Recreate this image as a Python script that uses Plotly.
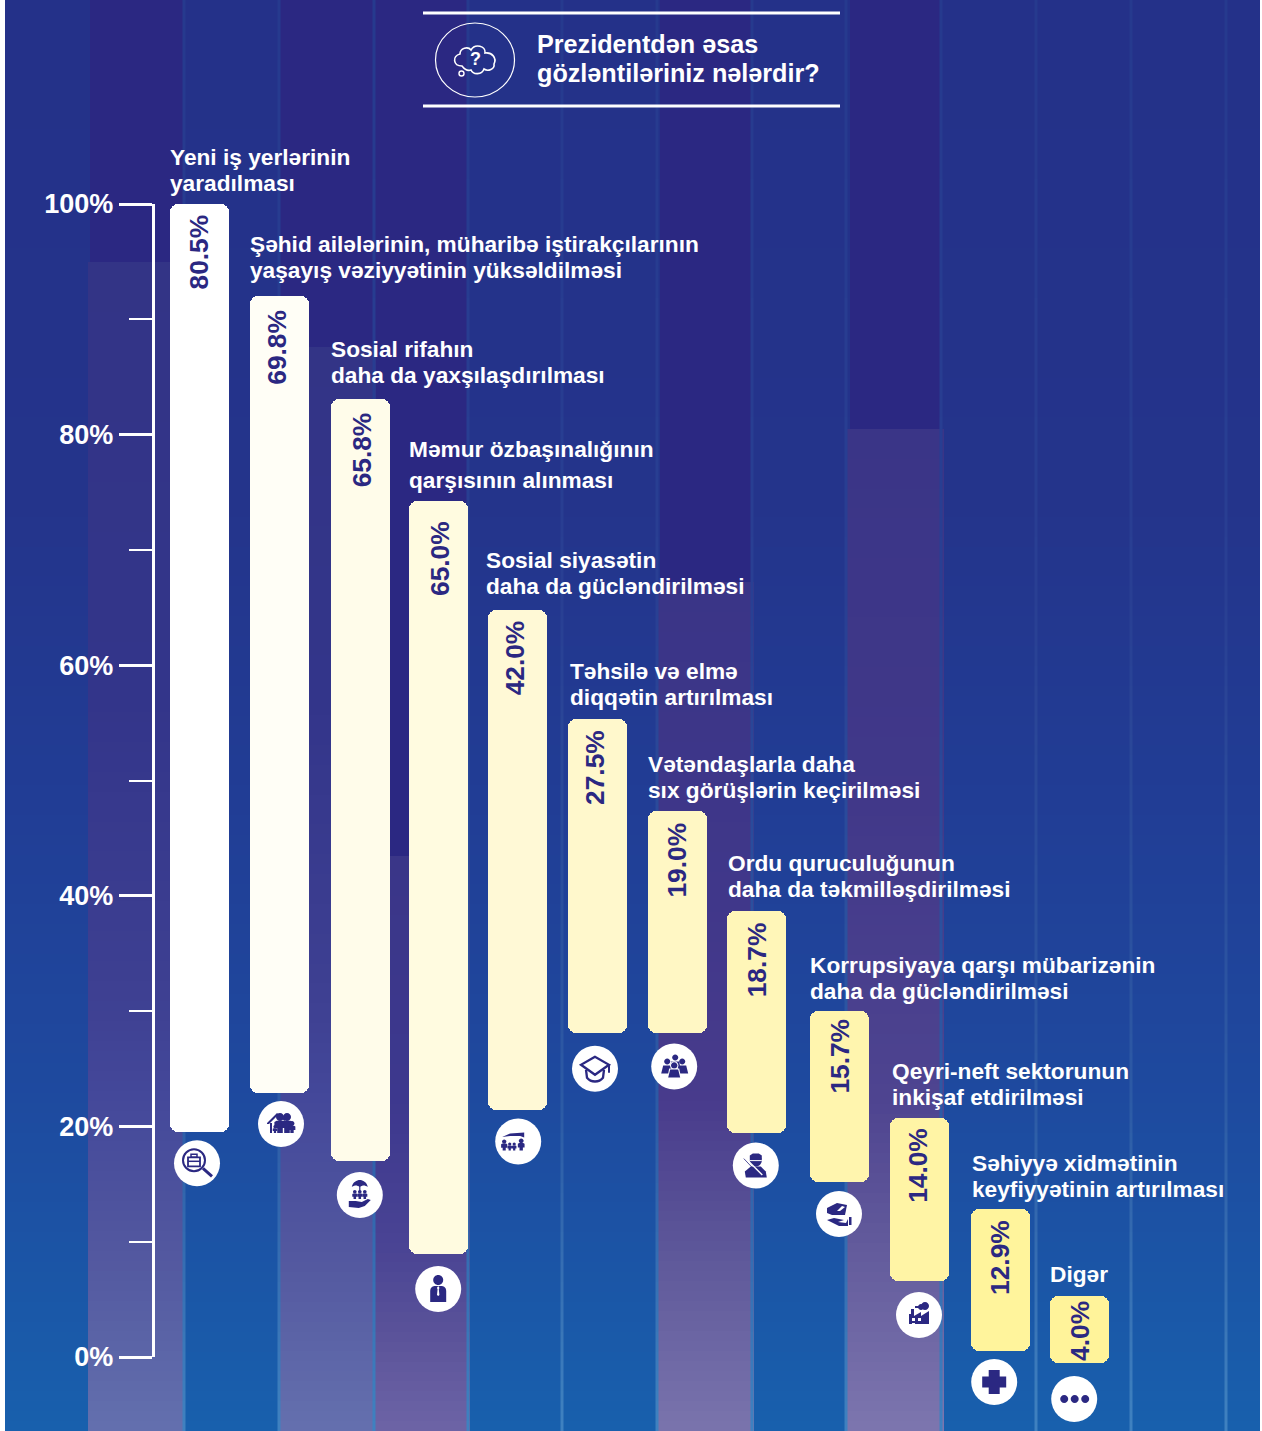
import numpy as np
import plotly.graph_objects as go

# ---------- data ----------
categories = [
    "Yeni iş yerlərinin<br>yaradılması",
    "Şəhid ailələrinin, müharibə iştirakçılarının<br>yaşayış vəziyyətinin yüksəldilməsi",
    "Sosial rifahın<br>daha da yaxşılaşdırılması",
    "Məmur özbaşınalığının<br>qarşısının alınması",
    "Sosial siyasətin<br>daha da gücləndirilməsi",
    "Təhsilə və elmə<br>diqqətin artırılması",
    "Vətəndaşlarla daha<br>sıx görüşlərin keçirilməsi",
    "Ordu quruculuğunun<br>daha da təkmilləşdirilməsi",
    "Korrupsiyaya qarşı mübarizənin<br>daha da gücləndirilməsi",
    "Qeyri-neft sektorunun<br>inkişaf etdirilməsi",
    "Səhiyyə xidmətinin<br>keyfiyyətinin artırılması",
    "Digər",
]
value_labels = ["80.5%", "69.8%", "65.8%", "65.0%", "42.0%", "27.5%", "19.0%", "18.7%", "15.7%", "14.0%", "12.9%", "4.0%"]
bar_high = [100.0, 92.0, 83.1, 74.2, 64.8, 55.3, 47.35, 38.7, 30.0, 20.7, 12.8, 5.3]
bar_low = [19.5, 22.9, 17.0, 8.9, 21.4, 28.1, 28.1, 19.4, 15.2, 6.6, 0.5, -0.5]
icon_x = [-0.025, 1.025, 2.01, 2.99, 3.99, 4.95, 5.94, 6.96, 8.0, 9.0, 9.94, 10.94]
icon_y = [16.8, 20.2, 14.05, 5.9, 18.7, 25.0, 25.2, 16.6, 12.4, 3.64, -2.17, -3.64]
title_lines = ["Prezidentdən əsas", "gözləntiləriniz nələrdir?"]

# ---------- styles ----------
W, H = 1262, 1431
INK = "#2b2882"
FONT = "Liberation Sans"
bar_colors = ["#ffffff", "#fffef6", "#fffcea", "#fffbe0", "#fff9d6", "#fff8cc",
              "#fff7c4", "#fff6b8", "#fff5ae", "#fff4a5", "#fff49c", "#fff39a"]
bar_nudge = [0.5, 0.5, 1.5, -0.5, -1.5, -1.5, -1.5, -2.5, 0.5, 0.5, 1.5, 0.5]
value_pad = [10, 13, 13, 19, 10, 10, 11, 11, 7, 9, 10, 4]
value_shift = [-1, -2, 3, 1, -4, -4, -2, -2, 1, -1, 1, 1]
label_dx = [0, 0, 0, 0, -2, 2, 0, 1, 0, 2, 1, 0]
label_gap = [21, 26, 24, 21, 24, 22, 21, 22, 20, 21, 20, 22]
line_gap = [26, 26, 26, 31, 26, 26, 26, 26, 26, 26, 26, 26]
LABEL_PX = 22.7
SLOT_PX = 80.0
SLOT0_PX = 199.0
PCT_PX = 11.53
ZERO_PX = 1357
TOP_PX = 204
BAR_W = 59 / SLOT_PX

fig = go.Figure()


# ---------- background (page-pixel axes) ----------
def band(x0, x1, y0, y1, stops):
    """One vertical gradient band; stops = [(y_px, colour), ...]"""
    edges = np.linspace(y0, y1, int((y1 - y0) // 10) + 2)
    mids = (edges[:-1] + edges[1:]) / 2
    scale = [[(y - y0) / (y1 - y0), c] for y, c in stops]
    z = [[(m - y0) / (y1 - y0)] for m in mids]
    fig.add_trace(go.Heatmap(x=[x0, x1], y=edges.tolist(), z=z, zmin=0, zmax=1, colorscale=scale,
                             showscale=False, hoverinfo="skip", xaxis="x", yaxis="y"))


band(5, 1260, 0, 1431, [(0, "#243189"), (500, "#24348b"), (800, "#213d95"), (1100, "#1e4a9f"), (1431, "#1860ad")])
for x0, x1, y1 in [(90, 184, 262), (280, 376, 347), (376, 467, 856), (660, 751, 582), (850, 941, 429)]:
    band(x0, x1, 0, y1, [(0, "#2b2882"), (y1, "#2b2882")])
for x0, x1, y0, stops in [
    (88, 185, 262, [(262, "#333486"), (700, "#33358a"), (1000, "#3e4092"), (1100, "#44489a"), (1250, "#52579f"), (1431, "#6370ae")]),
    (278, 376, 347, [(347, "#333486"), (700, "#33358a"), (1000, "#3e4092"), (1100, "#44489a"), (1250, "#52579f"), (1431, "#6470ae")]),
    (374, 470, 856, [(856, "#3a3688"), (1100, "#3d388e"), (1250, "#4a4494"), (1330, "#5a5299"), (1431, "#6d64a6")]),
    (656, 754, 582, [(582, "#3a3587"), (900, "#40378a"), (1100, "#483b8c"), (1250, "#5d5799"), (1431, "#7a74ad")]),
    (846, 944, 429, [(429, "#3a3587"), (800, "#413889"), (1100, "#4e4490"), (1250, "#635b9c"), (1431, "#7d76ae")]),
]:
    band(x0, x1, y0, 1431, stops)
for xc in [184, 279, 374, 468, 562, 657, 752, 846, 941, 1036, 1131, 1226]:
    band(xc - 1.5, xc + 1.5, 0, 1431, [(0, "#263a8e"), (600, "#293f93"), (1100, "#2c5aa5"), (1431, "#3f82c0")])

# ---------- marks ----------
slots = list(range(len(categories)))
fig.add_trace(go.Bar(
    x=slots, y=[h - l for h, l in zip(bar_high, bar_low)], base=bar_low,
    width=BAR_W, offset=[-BAR_W / 2 + n / SLOT_PX for n in bar_nudge],
    marker=dict(color=bar_colors, line=dict(width=0), cornerradius=8),
    cliponaxis=False, hoverinfo="skip", showlegend=False, xaxis="x2", yaxis="y2"))
fig.add_trace(go.Scatter(
    x=icon_x, y=icon_y, mode="markers",
    marker=dict(color="white", size=46, line=dict(width=0)),
    cliponaxis=False, hoverinfo="skip", showlegend=False, xaxis="x2", yaxis="y2"))
# carries the visible 0-100 % axis, same scale as the marks
fig.add_trace(go.Scatter(
    x=[0, 0], y=[0, 100], mode="markers", marker=dict(opacity=0, size=1),
    hoverinfo="skip", showlegend=False, xaxis="x2", yaxis="y3"))


# ---------- icon helpers (pixels from the icon centre, y up) ----------
def circ(cx, cy, r):
    k = 0.5523 * r
    return (f"M{cx - r} {cy} C{cx - r} {cy + k} {cx - k} {cy + r} {cx} {cy + r} "
            f"C{cx + k} {cy + r} {cx + r} {cy + k} {cx + r} {cy} "
            f"C{cx + r} {cy - k} {cx + k} {cy - r} {cx} {cy - r} "
            f"C{cx - k} {cy - r} {cx - r} {cy - k} {cx - r} {cy} Z")


def poly(*pts, close=True):
    s = "M" + " L".join(f"{x} {y}" for x, y in pts)
    return s + (" Z" if close else "")


def rect(x0, y0, x1, y1):
    return poly((x0, y0), (x1, y0), (x1, y1), (x0, y1))


def person(x, base, h):
    r = h * 0.2
    w = h * 0.28
    return [("f", circ(x, base + h - r, r)),
            ("f", poly((x - w, base + h * 0.25), (x - w, base + h * 0.55), (x - w * 0.6, base + h * 0.62),
                       (x + w * 0.6, base + h * 0.62), (x + w, base + h * 0.55), (x + w, base + h * 0.25),
                       (x + w * 0.5, base + h * 0.25), (x + w * 0.5, base), (x - w * 0.5, base), (x - w * 0.5, base + h * 0.25)))]


icons = [
    [("s", circ(-3, 3, 11), 2), ("s", rect(-9, -3, 3, 6), 1.8), ("s", rect(-6, 6, 0, 9), 1.5),
     ("s", poly((-9, 2), (3, 2), close=False), 1.5), ("s", poly((6, -5), (15, -13), close=False), 3)],
    [("f", poly((-14, 1), (-4, 11), (4, 5), (4, 3), (-4, 8), (-12, 0), (-14, 0))), ("f", rect(-11, -9, -9, 1))]
    + person(-1, -9, 20) + person(6, -9, 20) + person(-6, -9, 8) + person(11, -9, 12),
    [("f", "M-8 8 C-7 13 -3 15 0 15 C3 15 7 13 8 8 C5 10 3 10 0 8 C-3 10 -5 10 -8 8 Z"),
     ("s", poly((0, 9), (0, 4), close=False), 1.2)]
    + person(-5, -4, 9) + person(0, -4, 9) + person(5, -4, 9)
    + [("f", poly((-11, -6), (-4, -6), (2, -7), (8, -4), (11, -5), (5, -11), (-1, -13), (-11, -12)))],
    [("f", circ(0, 9, 5)), ("f", "M-8 -13 L-8 -2 C-8 2 -5 3 -3 3 L3 3 C5 3 8 2 8 -2 L8 -13 Z"),
     ("w", poly((0, 3), (-1.3, 1), (-0.6, 0), (-1.2, -6), (0, -7), (1.2, -6), (0.6, 0), (1.3, 1)))],
    [("f", poly((-16, 4.5), (-8, 8), (6, 9), (6, 4), (2, 5.5), (-8, 5.5)))]
    + person(-14, -9, 11) + person(-8.5, -9, 8) + person(-4, -9, 8) + person(3, -9, 12),
    [("s", poly((0, 12), (-14, 4), (0, -6), (14, 4)), 2.3),
     ("s", "M-9 -1 L-8 -9 C-4 -14 4 -14 8 -9 L9 -1", 2.3),
     ("s", poly((14, 4), (14, -4), close=False), 2)],
    [("f", circ(1, 9, 3)), ("f", circ(-7, 5, 3)), ("f", circ(8, 5, 3)),
     ("f", poly((-13, -7), (-11, 1), (-3, 1), (-2, -7))), ("f", poly((3, -7), (4, 1), (12, 1), (14, -7))),
     ("f", poly((-3, 5), (5, 5), (6, -1), (-4, -1))),
     ("w", circ(0, 1, 4.2)), ("f", circ(0, 1, 3.2)), ("w", poly((-7, -12), (-5, -2), (5, -2), (7, -12))),
     ("f", poly((-6, -11), (-4, -3), (4, -3), (6, -11)))],
    [("f", circ(0, 5, 6)), ("f", poly((-6, 6), (-6, 10), (-3, 12), (3, 12), (6, 10), (6, 6))),
     ("w", rect(-6, 4.5, 6, 5.5)), ("f", poly((-10, -12), (-11, -6), (-5, -1), (5, -1), (10, -6), (11, -12))),
     ("w", poly((-11, 7), (-10, 8), (7, -9), (6, -10))), ("s", poly((-12, 7), (5, -11), close=False), 0.8)],
    [("f", poly((-12, 6), (-2, 11), (8, 9), (6, -1), (-7, -1), (-12, 1))), ("w", poly((-2, 3), (1, 3), (6, 7), (3, 8))),
     ("f", poly((-12, -6), (-5, -4), (5, -6), (-1, -8), (7, -9), (9, -5), (9, -12), (0, -12))),
     ("f", rect(10, -11, 12.5, -3))],
    [("f", poly((-10, -9), (-10, 1), (-8, 1), (-8, 6), (-5, 6), (-5, -1), (2, 3), (2, -1), (10, 4), (10, -9))),
     ("f", circ(2, 8, 3)), ("f", circ(6, 9, 4)), ("f", rect(-4, 7, 3, 9)),
     ("w", rect(-7, -6, -4, -3)), ("w", rect(-1, -6, 2, -3)), ("w", rect(-7, -9, -4, -8))],
    [("f", poly((-5.5, 12), (5.5, 12), (5.5, 5.5), (12, 5.5), (12, -5.5), (5.5, -5.5), (5.5, -12),
                (-5.5, -12), (-5.5, -5.5), (-12, -5.5), (-12, 5.5), (-5.5, 5.5)))],
    [("f", circ(-10, 0, 4)), ("f", circ(0.5, 0, 4)), ("f", circ(11, 0, 4))],
]

shapes = []
for ax, ay, parts in zip(icon_x, icon_y, icons):
    for part in parts:
        mode, path = part[0], part[1]
        s = dict(type="path", path=path, xref="x2", yref="y2", xsizemode="pixel", ysizemode="pixel",
                 xanchor=ax, yanchor=ay, layer="above")
        if mode == "s":
            s.update(line=dict(color=INK, width=part[2]), fillcolor="rgba(0,0,0,0)")
        else:
            s.update(line=dict(width=0), fillcolor=INK if mode == "f" else "white")
        shapes.append(s)

# header rules, ring and thought cloud (page-pixel axes)
for y in (13, 106):
    shapes.append(dict(type="line", xref="x", yref="y", x0=423, x1=840, y0=y, y1=y, line=dict(color="white", width=3)))
shapes.append(dict(type="circle", xref="x", yref="y", x0=435.5, x1=514.5, y0=23, y1=97, line=dict(color="white", width=1.2)))
shapes.append(dict(type="path", xref="x", yref="y", line=dict(color="white", width=1.6),
                   path="M462 66 C453 66 452 56 460 54 C460 48 468 46 471 50 C475 43 486 46 485 53 "
                        "C492 52 497 58 494 64 C495 69 488 72 484 69 C482 75 473 75 471 70 C468 71 465 70 462 66 Z"))
shapes.append(dict(type="circle", xref="x", yref="y", x0=459, x1=464, y0=71, y1=76, line=dict(color="white", width=1.4)))


# ---------- text ----------
def sized(text, px):
    """Text at px while the enclosing font size alone sets the line spacing."""
    return "<br>".join(f'<span style="font-size:{px}px">{t}</span>' for t in text.split("<br>"))


ann = [dict(text="<b>?</b>", xref="x", yref="y", x=475, y=59, showarrow=False,
            font=dict(family=FONT, size=18, color="white"))]
for i, cat in enumerate(categories):
    ann.append(dict(text=sized(cat, LABEL_PX), xref="x2", yref="y2", x=i - BAR_W / 2, y=bar_high[i], xanchor="left", yanchor="bottom",
                    align="left", showarrow=False, xshift=bar_nudge[i] + label_dx[i], yshift=label_gap[i] - 13, borderpad=0, borderwidth=0,
                    font=dict(family=FONT, size=line_gap[i] / 1.3, color="white", weight="bold")))
    ann.append(dict(text=value_labels[i], xref="x2", yref="y2", x=i, y=bar_high[i], xanchor="center", yanchor="top",
                    textangle=-90, showarrow=False, xshift=value_shift[i], yshift=-value_pad[i], borderpad=0,
                    font=dict(family=FONT, size=26.3, color=INK, weight="bold")))

fig.update_layout(
    width=W, height=H, margin=dict(l=0, r=0, t=0, b=0), autosize=False,
    paper_bgcolor="white", plot_bgcolor="rgba(0,0,0,0)", showlegend=False,
    title=dict(text=sized("<br>".join(title_lines), 25.2), x=537 / W, xref="paper", xanchor="left", y=1 - 53 / H, yref="paper", yanchor="middle",
               font=dict(family=FONT, size=29 / 1.3, color="white", weight="bold"), automargin=False),
    xaxis=dict(domain=[0, 1], range=[0, W], visible=False, fixedrange=True, automargin=False),
    yaxis=dict(domain=[0, 1], range=[H, 0], visible=False, fixedrange=True, automargin=False),
    xaxis2=dict(domain=[0, 1], anchor="y2", range=[-SLOT0_PX / SLOT_PX, (W - SLOT0_PX) / SLOT_PX], visible=False,
                fixedrange=True, automargin=False),
    yaxis2=dict(domain=[0, 1], anchor="x2", range=[(ZERO_PX - H) / PCT_PX, ZERO_PX / PCT_PX], visible=False,
                fixedrange=True, automargin=False),
    yaxis3=dict(domain=[(H - ZERO_PX) / H, (H - TOP_PX) / H], range=[0, 100], anchor="free", position=153 / W, side="left",
                fixedrange=True, automargin=False, showgrid=False, zeroline=False, showline=True, linecolor="white", linewidth=2.5,
                tickmode="linear", tick0=0, dtick=20, ticksuffix="%", ticks="outside", ticklen=33.5, tickwidth=2.5, tickcolor="white",
                tickfont=dict(family=FONT, size=27, color="white", weight="bold"),
                minor=dict(tick0=0, dtick=10, ticks="outside", ticklen=23, tickwidth=2, tickcolor="white", showgrid=False)),
    shapes=shapes, annotations=ann, bargap=0,
)

fig.write_html("out.html", config=dict(displayModeBar=False),
               post_script="document.body.style.margin='0';document.documentElement.style.overflow='hidden';")
